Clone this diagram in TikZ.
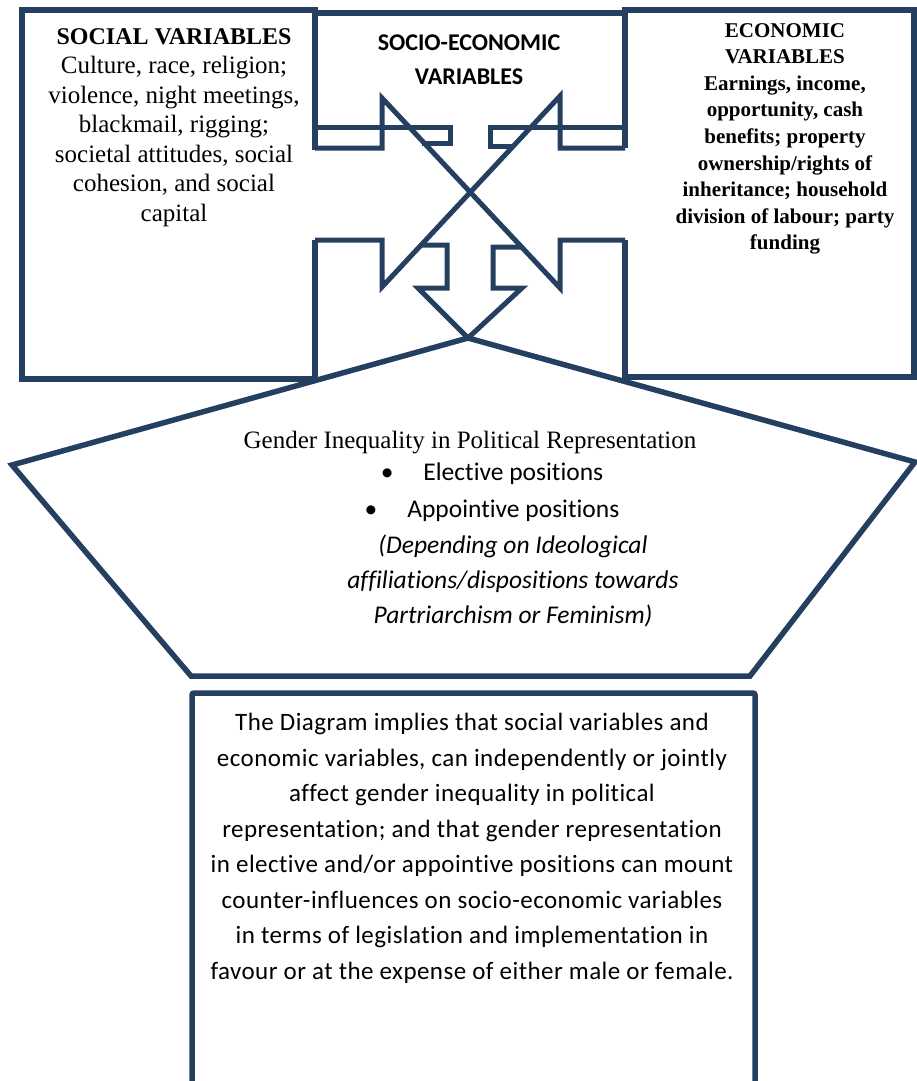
\documentclass[tikz,border=0pt]{standalone}
\usepackage{fontspec}
\setmainfont{Liberation Serif}
\newfontfamily\calibri{Carlito}[Ligatures=NoCommon]
\definecolor{navy}{HTML}{243F60}

\begin{document}
\begin{tikzpicture}[
    x=1pt, y=-1pt,
    frame/.style={draw=navy, line width=5.5pt, line join=miter},
    arrowline/.style={draw=navy, line width=5pt, line join=miter},
    serif/.style={anchor=north, align=center, inner sep=0pt, font=\fontsize{25}{29.5}\selectfont},
    econ/.style={anchor=north, align=center, inner sep=0pt, font=\fontsize{21}{26.6}\selectfont\bfseries},
    sans/.style={anchor=north, align=center, inner sep=0pt, font=\calibri\fontsize{25}{35.5}\selectfont}
]
\useasboundingbox (0,0) rectangle (917,1081);

% side boxes, left open where the arrows cut through
\draw[frame] (315,150) -- (315,10) -- (22,10) -- (22,379) -- (315,379) -- (315,240);
\draw[frame] (625,148) -- (625,10) -- (914,10) -- (914,377) -- (625,377) -- (625,240);

% socio-economic box
\draw[frame] (315,13) -- (625,13);
\draw[arrowline] (315,127) -- (450,127) -- (450,143) -- (422,143);
\draw[arrowline] (625,127) -- (490,127) -- (490,146) -- (514,146);

% crossing arrows
\draw[arrowline] (315,148) -- (382,148) -- (382,98) -- (560,288) -- (560,240) -- (625,240);
\draw[arrowline] (625,148) -- (560,148) -- (560,96) -- (382,287) -- (382,240) -- (315,240);

% arrow down into the pentagon
\draw[arrowline] (421,245) -- (447,245) -- (447,288) -- (418,288) -- (468,338)
    -- (522,288) -- (493,288) -- (493,247) -- (521,247);

% pentagon and notes box
\draw[frame] (468,338) -- (12,465) -- (191,676) -- (750,676) -- (915,462) -- cycle;
\draw[frame, rounded corners=2pt] (192,693) rectangle (755,1100);

\node[serif] (social) at (174,28) {{\fontsize{24}{29.5}\selectfont\bfseries SOCIAL VARIABLES}\\Culture, race, religion;\\violence, night meetings,\\blackmail, rigging;\\societal attitudes, social\\cohesion, and social\\capital};

\node[econ] (economic) at (785,23) {ECONOMIC\\VARIABLES\\Earnings, income,\\opportunity, cash\\benefits; property\\ownership/rights of\\inheritance; household\\division of labour; party\\funding};

\node[sans, font=\calibri\bfseries\fontsize{24}{34}\selectfont] (socio) at (469,35) {SOCIO-ECONOMIC\\VARIABLES};

\node[serif, font=\fontsize{25}{30}\selectfont] (gender) at (470,431) {Gender Inequality in Political Representation};
\node[sans, font=\calibri\fontsize{25.5}{37}\selectfont] (posts) at (492,463) {\textbullet\hspace{30pt}Elective positions\\\textbullet\hspace{30pt}Appointive positions};
\node[sans, font=\calibri\itshape\fontsize{25.5}{35}\selectfont] (ideology) at (513,535) {(Depending on Ideological\\affiliations/dispositions towards\\Partriarchism or Feminism)};

\node[sans, font=\calibri\fontsize{25}{35.5}\selectfont\addfontfeature{LetterSpace=1.8}] (summary) at (472,713) {The Diagram implies that social variables and\\economic variables, can independently or jointly\\affect gender inequality in political\\representation; and that gender representation\\in elective and/or appointive positions can mount\\counter-influences on socio-economic variables\\in terms of legislation and implementation in\\favour or at the expense of either male or female.};

\end{tikzpicture}
\end{document}
